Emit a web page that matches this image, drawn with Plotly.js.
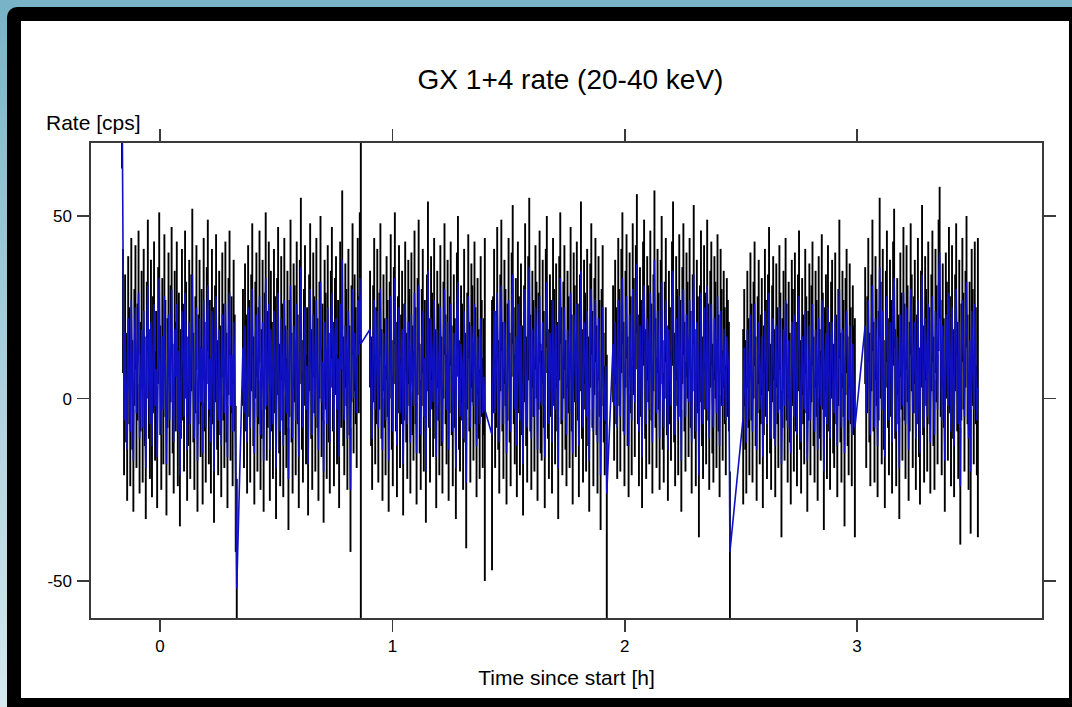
<!DOCTYPE html>
<html>
<head>
<meta charset="utf-8">
<script src="https://cdn.plot.ly/plotly-3.0.1.min.js"></script>
<style>
  html, body { margin: 0; padding: 0; width: 1072px; height: 707px; overflow: hidden; }
  body { background: linear-gradient(to bottom, #78b3c8 0%, #a9cfdc 50%, #d4e8ee 100%); position: relative; }
  #frame { position: absolute; left: 7px; top: 7px; width: 1065px; height: 700px; background: #000; border-top-left-radius: 10px; }
  #paper { position: absolute; left: 21px; top: 21px; width: 1048px; height: 677px; background: #fff; }
  #chart { position: absolute; left: 0; top: 0; width: 1072px; height: 707px; }
</style>
</head>
<body>
<div id="frame"></div>
<div id="paper"></div>
<div id="chart"></div>
<script>
// ---- data (estimated from the reference light curve) ----
const BIN_H = 0.00445;                      // bin width in hours (~16 s)
const segStart = [-0.1636, 0.357, 0.904, 1.429, 1.950, 2.510, 3.035]; // start of each good-time interval [h]

const seg1Rate = [88, 24, -6, 18, 3, -14, 22, 9, -9, 27, 1, -17, 14, 25, -4, 10, 29, -11, 6, 19, -8, 24, 2, -19, 16, 31, 4, -7, 21, -13, 12, 26, -2, 8, -16, 20, 33, 5, -10, 17, -3, 28, 11, -18, 7, 23, -6, 15, 30, 0, -12, 19, 6, 26, -9, 13, -21, 4, 24, 10, -5, 29, 16, -14, 2, 21, -7, 18, 34, 3, -11, 12, 25, -17, 8, 22, -1, 14, -15, 27, 6, -8, 20, 31, -3, 11, -12, 24, 9, -20, 15, 28, 1, -6, 19, 5, -13, 23, 10, -4, 26, 3, -16, 17, 29, -2, 12, -9, 21, 7, -22, -52];
const seg1Err  = [25, 17, 15, 16, 15, 14, 17, 16, 15, 17, 15, 14, 16, 17, 15, 16, 17, 15, 15, 16, 15, 17, 15, 14, 16, 18, 15, 15, 17, 14, 16, 17, 15, 16, 14, 16, 18, 15, 15, 16, 15, 17, 16, 14, 15, 17, 15, 16, 17, 15, 14, 16, 15, 17, 15, 16, 14, 15, 17, 16, 15, 17, 16, 14, 15, 17, 15, 16, 18, 15, 14, 16, 17, 14, 15, 16, 15, 16, 14, 17, 15, 15, 16, 18, 15, 16, 14, 17, 16, 14, 16, 17, 15, 15, 16, 15, 14, 17, 16, 15, 17, 15, 14, 16, 17, 15, 16, 15, 17, 16, 20, 30];

const seg2Rate = [14, -4, 20, 7, -12, 25, 11, -8, 18, 30, 2, -15, 16, 23, -5, 9, 28, -10, 4, 21, -17, 13, 33, -2, 8, 26, -14, 19, 6, -7, 24, 12, -19, 17, 29, 0, -9, 22, 10, -13, 27, 5, -4, 19, -22, 11, 31, 3, -11, 20, 15, -6, 26, 8, -16, 21, 36, 1, -8, 14, 25, -3, 9, -18, 18, 30, 4, -10, 23, 12, -5, 27, 7, -14, 16, 32, -1, 10, -20, 21, 13, -7, 25, 3, -12, 19, 29, 6, -9, 17, 22, -3, 11, -16, 26, 8, 38, 2, -6, 20, 14, -11, 24, 5, -25, 15, 30, 0, 18, 9, -4, 27, 12, 33, 15];
const seg2Err  = [16, 15, 17, 16, 14, 17, 16, 15, 16, 18, 15, 14, 16, 17, 15, 16, 18, 15, 15, 17, 14, 16, 18, 15, 16, 17, 14, 16, 15, 15, 17, 16, 14, 16, 18, 15, 15, 17, 16, 14, 17, 15, 15, 16, 14, 16, 18, 15, 15, 17, 16, 15, 17, 15, 14, 17, 19, 15, 15, 16, 17, 15, 16, 14, 16, 18, 15, 15, 17, 16, 15, 17, 15, 14, 16, 18, 15, 16, 14, 17, 16, 15, 17, 15, 14, 16, 18, 15, 15, 16, 17, 15, 16, 14, 17, 16, 19, 15, 15, 17, 16, 14, 17, 15, 17, 16, 18, 15, 16, 16, 15, 17, 16, 18, 90];

const seg3Rate = [19, 2, -11, 15, 27, -3, 9, 24, -8, 13, 30, 4, -14, 18, 7, -6, 22, 11, -17, 16, 28, 1, -9, 20, 33, 6, -13, 12, 25, -4, 8, 19, -18, 10, 26, 3, -7, 21, 14, -12, 23, 5, -2, 29, 9, -15, 17, 31, 0, -10, 14, 24, -5, 11, -20, 18, 35, 7, -8, 22, 13, -1, 27, 4, -16, 19, 10, -6, 25, 2, -12, 16, 30, 8, -3, 21, -14, 12, 26, 5, -9, 18, 7, -19, 23, 32, 1, -5, 15, 10, -11, 24, 3, -23, 13, 28, 6, -8, 20, 15, -2, 26, 9, -13, 17, 4, -7, 22, 11, -4, 6, -3];
const seg3Err  = [16, 15, 14, 16, 17, 15, 16, 17, 15, 16, 18, 15, 14, 16, 15, 15, 17, 16, 14, 16, 17, 15, 15, 16, 18, 15, 14, 16, 17, 15, 15, 16, 14, 16, 17, 15, 15, 17, 16, 14, 17, 15, 15, 17, 16, 14, 16, 18, 15, 15, 16, 17, 15, 16, 14, 16, 19, 15, 15, 17, 16, 15, 17, 15, 14, 16, 16, 15, 17, 15, 14, 16, 18, 15, 15, 17, 14, 16, 17, 15, 15, 16, 15, 14, 17, 18, 15, 15, 16, 16, 14, 17, 15, 18, 16, 17, 15, 15, 17, 16, 15, 17, 16, 14, 16, 15, 15, 17, 16, 15, 16, 47];

const seg4Rate = [-10, 12, 24, -4, 8, 29, 1, -12, 18, 31, 6, -7, 21, 14, -15, 10, 27, 3, -9, 23, 34, 9, -3, 17, -13, 26, 12, -6, 20, 5, -18, 15, 30, 2, -8, 22, 36, 7, -11, 19, 11, -5, 25, 16, -14, 13, 28, 0, -2, 21, 8, -16, 24, 32, 4, -7, 18, 11, -12, 27, 14, -3, 20, 6, -19, 22, 33, 9, -6, 16, 25, 1, -10, 19, 12, -4, 29, 7, -15, 23, 15, -1, 26, 10, -13, 18, 35, 4, -8, 21, 13, -5, 24, 2, -17, 20, 30, 8, -9, 17, 27, 5, -12, 22, 11, -21, 14, 25, 3, -6, 9, -26];
const seg4Err  = [37, 16, 17, 15, 16, 18, 15, 14, 16, 18, 15, 15, 17, 16, 14, 16, 17, 15, 15, 17, 19, 16, 15, 16, 14, 17, 16, 15, 17, 15, 14, 16, 18, 15, 15, 17, 19, 16, 14, 16, 16, 15, 17, 16, 14, 16, 18, 15, 15, 17, 16, 14, 17, 18, 15, 15, 16, 16, 14, 17, 16, 15, 17, 15, 14, 17, 18, 16, 15, 16, 17, 15, 14, 16, 16, 15, 18, 16, 14, 17, 16, 15, 17, 16, 14, 16, 19, 15, 15, 17, 16, 15, 17, 15, 14, 17, 18, 16, 15, 16, 17, 15, 14, 17, 16, 15, 16, 17, 15, 15, 16, 38];

const seg5Rate = [15, -2, 21, 9, -8, 27, 14, -5, 24, 33, 6, -10, 19, 28, 2, -13, 23, 12, -6, 30, 17, -1, 25, 37, 8, -9, 20, 11, -16, 26, 31, 4, -7, 22, 15, -3, 29, 10, -12, 18, 38, 7, -4, 24, 13, -11, 21, 32, 1, -8, 16, 27, 5, -14, 19, 9, -2, 26, 35, 3, -10, 22, 14, -6, 28, 11, -17, 20, 30, 6, -5, 23, 16, -1, 27, 8, -12, 18, 34, 4, -9, 21, 12, -21, 15, 29, 2, -7, 25, 13, -3, 31, 10, -11, 19, 26, 0, -8, 22, 16, -4, 28, 7, -13, 24, 14, -2, 19, 9, -6, 17, 11, 6, -42];
const seg5Err  = [16, 15, 17, 16, 14, 17, 16, 15, 17, 18, 15, 14, 16, 17, 15, 14, 17, 16, 15, 18, 16, 15, 17, 19, 15, 15, 16, 16, 14, 17, 18, 15, 15, 17, 16, 15, 17, 16, 14, 16, 19, 15, 15, 17, 16, 14, 17, 18, 15, 15, 16, 17, 15, 14, 16, 16, 15, 17, 19, 15, 14, 17, 16, 15, 17, 16, 14, 16, 18, 15, 15, 17, 16, 15, 17, 16, 14, 16, 19, 15, 15, 17, 16, 17, 16, 17, 15, 15, 17, 16, 15, 18, 16, 14, 16, 17, 15, 15, 17, 16, 15, 17, 16, 14, 17, 16, 15, 16, 16, 15, 16, 16, 15, 22];

const seg6Rate = [-5, 14, 1, -12, 19, 7, -6, 23, 10, -9, 16, 26, 2, -14, 12, 21, -3, 8, 17, -16, 5, 24, 11, -7, 18, 29, 0, -11, 15, 22, 4, -13, 20, 9, -4, 25, 13, -18, 7, 19, -2, 27, 10, -8, 16, 3, -15, 21, 14, -5, 23, 6, -10, 18, 28, 1, -12, 17, 8, -3, 24, 12, -17, 9, 20, -6, 15, 26, 2, -9, 19, 11, -14, 22, 4, -2, 27, 13, -20, 10, 18, -7, 25, 6, -11, 16, 21, 0, -4, 23, 8, -13, 14, 30, 3, -8, 19, 11, -15, 17, 24, 2, -6, 20, 9, -10, 15, 5, -8];
const seg6Err  = [24, 16, 15, 14, 16, 15, 15, 17, 16, 14, 16, 17, 15, 14, 16, 17, 15, 15, 16, 14, 15, 17, 16, 15, 16, 18, 15, 14, 16, 17, 15, 14, 17, 16, 15, 17, 16, 20, 15, 16, 15, 17, 16, 15, 16, 15, 14, 17, 16, 15, 17, 15, 14, 16, 18, 15, 14, 16, 15, 15, 17, 16, 14, 15, 17, 15, 16, 17, 15, 14, 16, 16, 14, 17, 15, 15, 18, 16, 16, 15, 16, 15, 17, 15, 14, 16, 17, 15, 15, 17, 15, 14, 16, 19, 15, 15, 16, 16, 20, 16, 17, 15, 15, 17, 16, 14, 16, 15, 30];

const seg7Rate = [20, -4, 12, 27, 3, -10, 18, 31, 6, -8, 22, 14, -13, 9, 36, 16, -3, 24, 1, -16, 19, 28, 7, -6, 21, 11, -12, 26, 33, 4, -9, 17, 8, -19, 23, 13, -2, 29, 10, -7, 25, 15, -14, 6, 30, 18, -4, 12, 21, -11, 8, 27, -1, -15, 19, 34, 5, -8, 22, 14, -5, 26, 9, -12, 18, 28, 2, -10, 24, 15, -3, 31, 40, 11, -6, 20, 7, -17, 23, 16, -2, 29, 12, -9, 25, 4, -13, 18, 30, 6, -7, 21, -24, 10, 27, 13, -5, 19, 32, 8, -11, 16, -20, 24, 14, -3, 26, 9, -6, 3];
const seg7Err  = [16, 15, 16, 17, 15, 14, 16, 18, 15, 15, 17, 16, 14, 15, 19, 16, 15, 17, 15, 14, 16, 18, 15, 15, 17, 16, 14, 17, 19, 15, 15, 16, 15, 14, 17, 16, 15, 18, 16, 15, 17, 16, 14, 15, 18, 16, 15, 16, 17, 14, 15, 17, 15, 14, 16, 19, 15, 15, 17, 16, 15, 17, 16, 14, 16, 18, 15, 15, 17, 16, 15, 18, 18, 16, 15, 17, 15, 14, 17, 16, 15, 18, 16, 15, 17, 15, 14, 16, 18, 15, 15, 17, 16, 16, 17, 16, 15, 16, 18, 15, 14, 16, 17, 17, 16, 15, 17, 16, 15, 41];

const xTickVals = [0, 1, 2, 3];
const xTickText = ['0', '1', '2', '3'];
const yTickVals = [-50, 0, 50];
const yTickText = ['-50', '0', '50'];

// ---- assemble ----
const rates = [seg1Rate, seg2Rate, seg3Rate, seg4Rate, seg5Rate, seg6Rate, seg7Rate];
const errs  = [seg1Err, seg2Err, seg3Err, seg4Err, seg5Err, seg6Err, seg7Err];
const t = [], r = [], e = [];
rates.forEach((seg, k) => {
  seg.forEach((v, i) => {
    t.push(segStart[k] + i * BIN_H);
    r.push(v);
    e.push(errs[k][i]);
  });
});

const FONT = 'Liberation Sans, Arial, Helvetica, sans-serif';

const traces = [
  {
    x: t, y: r, type: 'scatter', mode: 'markers',
    marker: { size: 1, color: 'rgba(0,0,0,0)' },
    error_y: { type: 'data', array: e, visible: true, color: '#000', thickness: 1.9, width: 0 },
    hoverinfo: 'skip', showlegend: false
  },
  {
    x: t, y: r, type: 'scatter', mode: 'lines',
    line: { color: 'rgb(16,16,195)', width: 1.6 },
    hoverinfo: 'skip', showlegend: false
  }
];

const axisCommon = {
  showline: true, linecolor: '#3a3a3a', linewidth: 1.6, mirror: 'ticks',
  ticks: 'outside', ticklen: 12, tickwidth: 1.6, tickcolor: '#3a3a3a',
  showgrid: false, zeroline: false, tickmode: 'array',
  tickfont: { family: FONT, size: 17, color: '#000' }
};

const layout = {
  width: 1072, height: 707,
  paper_bgcolor: 'rgba(0,0,0,0)', plot_bgcolor: 'rgba(0,0,0,0)',
  margin: { l: 91, r: 30, t: 143, b: 89, pad: 0 },
  showlegend: false,
  title: {
    text: 'GX 1+4 rate (20-40 keV)',
    font: { family: FONT, size: 28, color: '#000' },
    x: 0.5 + 4 / 951, xref: 'paper', y: 1 - 79 / 707, yref: 'container', yanchor: 'middle'
  },
  xaxis: Object.assign({}, axisCommon, {
    range: [-0.297, 3.796], tickvals: xTickVals, ticktext: xTickText,
    ticklabelstandoff: 0,
    title: { text: 'Time since start [h]', font: { family: FONT, size: 21, color: '#000' }, standoff: 15 }
  }),
  yaxis: Object.assign({}, axisCommon, {
    range: [-60.1, 70], tickvals: yTickVals, ticktext: yTickText,
    ticklabelstandoff: 2
  }),
  annotations: [{
    text: 'Rate [cps]', xref: 'paper', yref: 'paper',
    x: (44 - 91) / 951, y: (618 - 122) / 475, xanchor: 'left', yanchor: 'middle',
    showarrow: false, font: { family: FONT, size: 21, color: '#000' }
  }]
};

Plotly.newPlot('chart', traces, layout, { staticPlot: true, displayModeBar: false });
</script>
</body>
</html>
